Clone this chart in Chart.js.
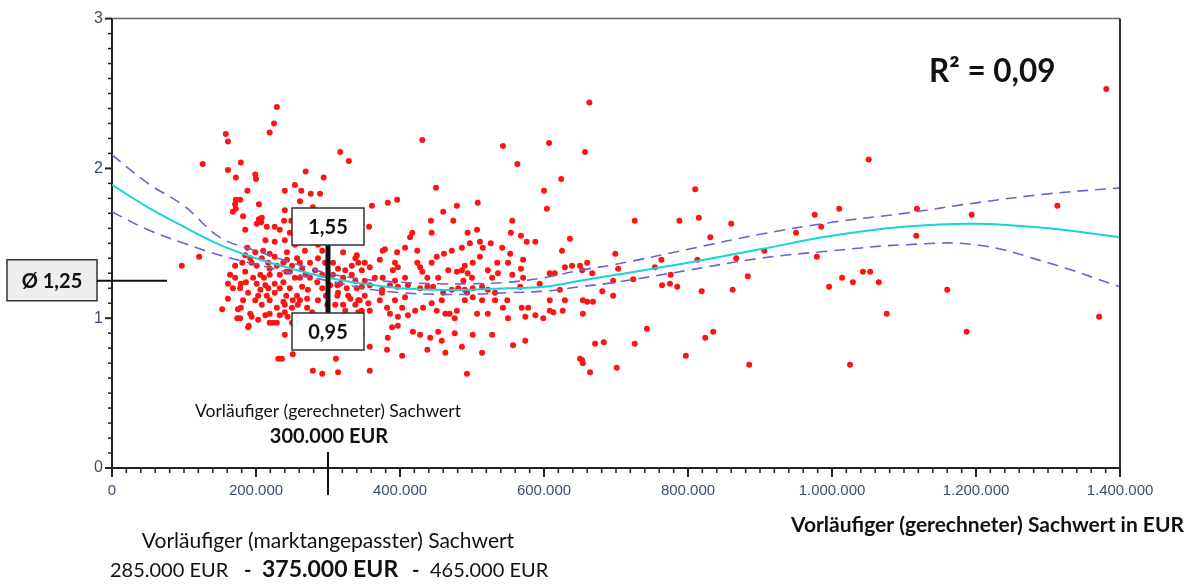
<!DOCTYPE html>
<html>
<head>
<meta charset="utf-8">
<script src="https://cdn.jsdelivr.net/npm/chart.js@4/dist/chart.umd.min.js"></script>
<style>
  html, body { margin: 0; padding: 0; background: #fff; }
  #wrap { width: 1189px; height: 584px; }
</style>
</head>
<body>
<div id="wrap"><canvas id="myChart" width="1189" height="584"></canvas></div>
<script>
// Vorläufiger Sachwert in TEUR (x) und Marktanpassungsfaktor (y), gruppiert nach Bereich
let obenLinksX = [97,121,126,158,161,179,161,172,199,200, 229,225,219,317,329,188,204,182,185,172,
  178,171,172,168,240,254,263,276,289,269, 294,240,261,279,204,208,201,215,226,239, 249,207];
let obenLinksY = [1.35,1.41,2.03,2.23,2.18,2.04,1.99,1.94,1.96,1.93, 2.41,2.30,2.24,2.11,2.05,1.85,1.76,1.68,1.59,1.79,
  1.79,1.76,1.73,1.71,1.85,1.89,1.85,1.83,1.83,1.98, 1.94,1.72,1.78,1.74,1.66,1.67,1.63,1.61,1.61,1.65, 1.65,1.64];

let kernX = [171,168,179,178,161,153,179,175,178,174, 192,194,190,201,206,213,217,215,203,219,
  219,224,233,238,240,244,250,257,261,271, 264,254,247,231,236,251,311,292,314,188,
  199,210,219,243,257,243,229,219,201,192, 181,185,206,219,233,247,264,275,286,275,
  285,292,272,271,258,238,233,226,321,340, 333,321,326,340,331,338,321,313,313,219, 229,189,279];
let kernY = [1.27,1.20,1.23,1.20,1.13,1.06,1.07,1.06,1.00,1.00, 1.03,1.01,0.95,1.23,1.19,1.22,1.20,1.15,1.15,1.12,
  1.03,0.97,1.02,1.11,1.04,1.01,1.07,1.15,1.12,1.07, 1.21,1.27,1.20,0.73,0.73,0.76,0.73,0.63,0.64,1.47,
  1.44,1.45,1.43,1.44,1.40,1.39,1.35,1.33,1.35,1.40, 1.37,1.31,1.29,1.29,1.29,1.31,1.33,1.37,1.40,1.27,
  1.24,1.20,1.19,1.13,1.09,1.24,1.20,1.17,1.44,1.42, 1.35,1.27,1.20,1.20,1.13,1.09,1.09,1.15,1.22,0.97, 0.97,0.94,0.65];

let kernDichtX = [185,194,208,217,226,238,250,261,269,282, 296,292,303,297,286,278,261,250,208,199,
  189,186,196,211,226,242,251,240,229,213, 203,182,171,164,161,261,242,299,289,275,
  258,240,296,324,338,347];
let kernDichtY = [1.42,1.37,1.40,1.37,1.41,1.37,1.35,1.37,1.29,1.32, 1.37,1.29,1.22,1.15,1.12,1.04,1.00,0.97,1.09,1.12,
  1.17,1.24,1.27,1.27,1.23,1.15,1.12,1.09,1.07,1.02, 0.99,1.12,1.35,1.29,1.23,1.27,1.31,1.09,0.99,0.95,
  0.92,0.89,0.85,0.92,0.95,0.89];

let balkenX = [307,314,324,333,342,307,317,338,328,344, 310,324,342,331,317,347,351,347,314,338,
  261,275,286,268,292,254,240,226,213,247, 233,278];
let balkenY = [1.37,1.33,1.32,1.29,1.37,1.29,1.23,1.25,1.15,1.12, 1.09,1.05,1.04,1.00,1.00,1.32,1.15,1.05,1.17,1.40,
  1.51,1.52,1.49,1.45,1.45,1.49,1.52,1.51,1.52,1.57, 1.59,1.57];

let mitteObenX = [361,383,396,443,460,474,444,479,508,556, 554,568,576,588,604,417,414,407,396,424,
  379,461,472,486,494,507,497,511,515,526, 542,553,571,568,393,397,390,424,428,444,
  451,431,438,453,467,479,486,490,494,501, 488,500,511,522,528,535,550,556,536,571];
let mitteObenY = [1.75,1.77,1.79,1.65,1.71,1.65,1.57,1.75,1.77,1.65, 1.57,1.55,1.51,1.51,1.73,1.57,1.54,1.47,1.44,1.45,
  1.46,1.43,1.45,1.47,1.57,1.59,1.50,1.51,1.47,1.50, 1.47,1.43,1.39,1.33,1.37,1.34,1.32,1.37,1.34,1.37,
  1.41,1.31,1.27,1.27,1.32,1.31,1.32,1.35,1.30,1.37, 1.25,1.27,1.41,1.32,1.27,1.37,1.37,1.29,1.30,1.27];

let mitteUntenX = [347,358,375,386,397,411,428,438,446,460, 472,481,490,501,514,522,532,342,356,372,
  382,393,407,403,386,397,411,421,432,444, 451,458,463,469,476,479,490,493,501,514,
  507,522,532,549,543,550,569,578,588,608, 608,626,629];
let mitteUntenY = [1.21,1.22,1.19,1.22,1.21,1.22,1.20,1.21,1.21,1.17, 1.19,1.20,1.19,1.20,1.21,1.19,1.17,1.12,1.10,1.12,
  1.07,1.12,1.14,1.07,1.03,1.01,1.02,1.05,1.07,1.10, 1.05,1.12,1.03,1.03,1.00,1.05,1.12,1.17,1.14,1.12,
  1.03,1.03,1.12,1.12,1.07,1.00,1.07,1.07,1.02,1.12, 1.05,1.05,1.12];

let mitteTiefX = [389,383,397,418,428,442,453,458,476,486, 501,528,463,438,403,382,358,514,557,574,
  358,493,351,358,372,365,351,375,358,376, 376,407,393,357];
let mitteTiefY = [0.94,0.87,0.95,0.91,0.89,0.87,0.91,0.85,0.90,0.81, 0.89,0.89,0.77,0.79,0.75,0.79,0.81,0.77,0.82,0.85,
  0.65,0.63,1.37,1.34,1.39,1.27,1.25,1.17,1.05,1.27, 1.45,1.27,1.25,1.61];

let rechtsNahX = [625,629,615,622,639,650,660,636,608,594, 567,613,599,574,654,660,654,668,650,664,
  671,663,657,431,543,563,607,450,624,600, 653,667];
let rechtsNahY = [1.45,1.34,1.30,1.19,1.35,1.35,1.37,1.53,1.30,1.23, 1.21,1.04,1.00,1.01,1.12,1.11,1.03,1.11,0.73,0.64,
  0.83,2.44,2.11,2.19,2.15,2.03,2.17,1.87,1.93,1.85, 1.32,1.30];

let rechtsFernX = [810,726,788,815,860,831,699,703,763,754, 776,813,867,906,950,976,985,1010,1051,979,
  1014,1029,1043,1053,1065,996,883,862,819,785, 775,764,724,696,681,696,743,824,835,683,
  726,797,885,1025,701,653,654,1381,1313,1194, 1118,1117,1160,1076,1187,1371];
let rechtsFernY = [1.86,1.65,1.65,1.67,1.63,1.54,1.43,1.33,1.39,1.34, 1.29,1.39,1.40,1.45,1.57,1.69,1.61,1.73,2.06,1.41,
  1.27,1.24,1.31,1.31,1.24,1.21,1.28,1.19,1.18,1.21, 1.23,1.22,1.26,1.25,1.18,1.15,0.93,0.87,0.91,0.84,
  0.83,0.75,0.69,0.69,0.67,0.72,0.70,2.53,1.75,1.69, 1.73,1.55,1.19,1.03,0.91,1.01];

// Regressionskurve und Konfidenzband (TEUR)
let kurveX = [0,50,100,150,200,250,300,350,400,450,500,550,600,650,700,800,900,1000,1100,1200,1300,1400];
let kurveFit = [1.89,1.74,1.61,1.49,1.40,1.33,1.27,1.23,1.20,1.19,1.19,1.20,1.21,1.25,1.29,1.37,1.46,1.55,1.61,1.63,1.60,1.54];
let kurveOben = [2.09,1.90,1.75,1.54,1.45,1.37,1.30,1.26,1.24,1.23,1.23,1.24,1.27,1.32,1.36,1.46,1.56,1.64,1.70,1.77,1.83,1.87];
let kurveUnten = [1.71,1.59,1.50,1.42,1.36,1.30,1.25,1.20,1.17,1.16,1.16,1.17,1.18,1.21,1.24,1.32,1.40,1.45,1.49,1.49,1.37,1.21];

let xTicks = [0, 200000, 400000, 600000, 800000, 1000000, 1200000, 1400000];
let yTicks = [0, 1, 2, 3];

function punkte(xs, ys) {
    return xs.map((x, i) => ({ x: x * 1000, y: ys[i] }));
}

let streuung = [].concat(
    punkte(obenLinksX, obenLinksY), punkte(kernX, kernY), punkte(kernDichtX, kernDichtY),
    punkte(balkenX, balkenY), punkte(mitteObenX, mitteObenY), punkte(mitteUntenX, mitteUntenY),
    punkte(mitteTiefX, mitteTiefY), punkte(rechtsNahX, rechtsNahY), punkte(rechtsFernX, rechtsFernY)
);

function tausender(v) {
    return String(Math.round(v)).replace(/\B(?=(\d{3})+(?!\d))/g, '.');
}

const SANS = "Lato, 'Open Sans', sans-serif";
const TICKFONT = "'Liberation Sans', Arial, sans-serif";

// feine und grobe Achsenstriche, Rahmen oben/rechts
const achsenPlugin = {
    id: 'achsen',
    afterDraw(chart) {
        const c = chart.ctx, a = chart.chartArea;
        const xs = chart.scales.x, ys = chart.scales.y;
        c.save();
        c.strokeStyle = '#666';
        c.lineWidth = 1.5;
        c.beginPath();
        c.moveTo(a.left, a.top); c.lineTo(a.right, a.top);
        c.stroke();
        c.strokeStyle = '#333';
        c.lineWidth = 2;
        c.beginPath();
        c.moveTo(a.right, a.top); c.lineTo(a.right, a.bottom);
        c.stroke();
        c.strokeStyle = '#222';
        for (let v = 0; v <= 1400000; v += 20000) {
            const px = xs.getPixelForValue(v);
            const major = v % 200000 === 0;
            c.lineWidth = major ? 2 : 1.5;
            c.beginPath();
            c.moveTo(px, a.bottom); c.lineTo(px, a.bottom + (major ? 9 : 5));
            c.stroke();
        }
        for (let i = 0; i <= 30; i++) {
            const py = ys.getPixelForValue(i / 10);
            const major = i % 10 === 0;
            c.lineWidth = major ? 2 : 1.5;
            c.beginPath();
            c.moveTo(a.left - (major ? 7 : 4), py); c.lineTo(a.left, py);
            c.stroke();
        }
        c.restore();
    }
};

function kasten(c, x, y, w, h, fill, text) {
    c.fillStyle = fill;
    c.fillRect(x, y, w, h);
    c.strokeStyle = '#333';
    c.lineWidth = 1.5;
    c.strokeRect(x, y, w, h);
    c.fillStyle = '#111';
    c.font = "bold 20px " + SANS;
    c.textAlign = 'center';
    c.textBaseline = 'middle';
    c.fillText(text, x + w / 2, y + h / 2 + 1);
}

const beschriftung = {
    id: 'beschriftung',
    afterDraw(chart) {
        const c = chart.ctx;
        const xs = chart.scales.x, ys = chart.scales.y;
        const xm = xs.getPixelForValue(300000);
        const yMittel = ys.getPixelForValue(1.25);
        c.save();
        // Mittelwert
        kasten(c, 7, yMittel - 21, 90, 41, '#eeeeee', 'Ø 1,25');
        c.strokeStyle = '#111';
        c.lineWidth = 2;
        c.beginPath(); c.moveTo(97, yMittel); c.lineTo(167, yMittel); c.stroke();
        // Spanne 0,95 - 1,55
        c.lineWidth = 5;
        c.beginPath(); c.moveTo(xm, 245); c.lineTo(xm, 313); c.stroke();
        kasten(c, xm - 36, 208, 72, 37, '#ffffff', '1,55');
        kasten(c, xm - 36, 313, 72, 37, '#ffffff', '0,95');
        c.strokeStyle = '#111';
        c.lineWidth = 2;
        c.beginPath(); c.moveTo(xm, 452); c.lineTo(xm, 495); c.stroke();

        c.fillStyle = '#111';
        c.textBaseline = 'middle';
        c.textAlign = 'center';
        c.font = "17.5px " + SANS;
        c.fillText('Vorläufiger (gerechneter) Sachwert', xm, 411);
        c.font = "bold 20px " + SANS;
        c.fillText('300.000 EUR', xm + 1, 437);
        c.font = "21px " + SANS;
        c.fillText('Vorläufiger (marktangepasster) Sachwert', xm, 541);

        c.textAlign = 'left';
        c.font = "20px " + SANS;
        c.fillText('285.000 EUR', 110, 571);
        c.fillText('465.000 EUR', 430, 571);
        c.font = "bold 20px " + SANS;
        c.fillText('-', 244, 571);
        c.fillText('-', 412, 571);
        c.font = "bold 23px " + SANS;
        c.fillText('375.000 EUR', 262, 570);

        c.font = "bold 31.5px " + SANS;
        c.fillText('R² = 0,09', 929, 72);
        c.textAlign = 'right';
        c.font = "bold 21px " + SANS;
        c.fillText('Vorläufiger (gerechneter) Sachwert in EUR', 1184, 525);
        c.restore();
    }
};

const linie = (data, color, width, dash) => ({
    type: 'line',
    data: data,
    borderColor: color,
    borderWidth: width,
    borderDash: dash,
    pointRadius: 0,
    tension: 0.4,
    fill: false,
    order: 0
});

let ctx = document.getElementById('myChart').getContext('2d');
let chart = new Chart(ctx, {
    type: 'scatter',
    data: {
        datasets: [
            linie(punkte(kurveX, kurveFit), '#17d3dc', 2, []),
            linie(punkte(kurveX, kurveOben), '#6f5fd2', 1.6, [11, 7]),
            linie(punkte(kurveX, kurveUnten), '#6f5fd2', 1.6, [11, 7]),
            {
                label: 'Marktanpassungsfaktor',
                data: streuung,
                backgroundColor: '#ff1414',
                borderWidth: 0,
                pointRadius: 3,
                order: 1
            }
        ]
    },
    options: {
        responsive: false,
        animation: false,
        layout: { padding: { left: 67, right: 69, top: 17, bottom: 76 } },
        plugins: { legend: { display: false }, tooltip: { enabled: false } },
        scales: {
            x: {
                type: 'linear',
                min: 0,
                max: 1400000,
                afterFit: s => { s.height = 40; },
                afterBuildTicks: s => { s.ticks = xTicks.map(v => ({ value: v })); },
                ticks: {
                    callback: v => tausender(v),
                    color: '#3d4d6e',
                    font: { family: TICKFONT, size: 15 },
                    padding: 14,
                    maxRotation: 0,
                    autoSkip: false
                },
                grid: { drawOnChartArea: false, drawTicks: false },
                border: { color: '#222', width: 2 }
            },
            y: {
                min: 0,
                max: 3,
                afterFit: s => { s.width = 45; },
                afterBuildTicks: s => { s.ticks = yTicks.map(v => ({ value: v })); },
                ticks: {
                    callback: v => String(v),
                    color: '#3d4d6e',
                    font: { family: TICKFONT, size: 16 },
                    padding: 9
                },
                grid: { drawOnChartArea: false, drawTicks: false },
                border: { color: '#222', width: 2 }
            }
        }
    },
    plugins: [achsenPlugin, beschriftung]
});
</script>
</body>
</html>
